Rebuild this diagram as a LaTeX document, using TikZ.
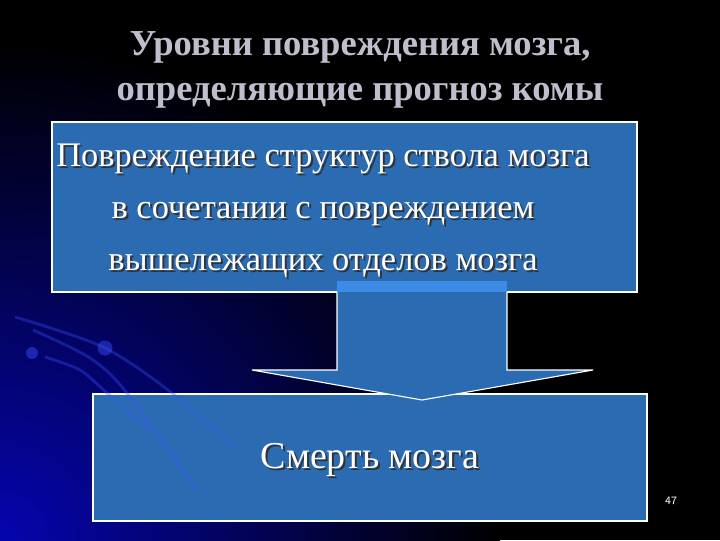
\documentclass[tikz,border=0pt]{standalone}
\usepackage{fontspec}
\setmainfont{Liberation Serif}
\usetikzlibrary{positioning}

\definecolor{boxblue}{RGB}{42,107,178}
\definecolor{arrowtop}{RGB}{60,140,230}
\definecolor{glowblue}{RGB}{5,5,175}
\definecolor{decoblue}{RGB}{60,80,255}
\definecolor{titlegray}{RGB}{190,190,205}

\tikzset{
  panel/.style={draw=white, line width=1pt, fill=boxblue, inner sep=0pt},
  paneltext/.style={text=white, font=\fontsize{24.5}{37}\selectfont, align=center},
  shadowtext/.style={text=black!80, font=\fontsize{24.5}{37}\selectfont, align=center},
  titletext/.style={text=titlegray, font=\fontsize{26}{32}\selectfont\bfseries, align=center},
  deco/.style={decoblue, opacity=0.35, line width=2pt}
}

\begin{document}
\begin{tikzpicture}[x=0.025cm,y=0.025cm]
% background
\fill[black] (0,0) rectangle (720,540);
\begin{scope}
\clip (0,0) rectangle (720,540);
\shade[inner color=glowblue, outer color=black] (0,0) circle (500);
\end{scope}
\useasboundingbox (0,0) rectangle (720,540);

% title
\node[titletext] (title) at (360,470) {Уровни повреждения мозга,\\определяющие прогноз комы};

% upper panel
\node[panel, minimum width=14.625cm, minimum height=4.25cm] (upper) at (344.5,333) {};
\node[shadowtext] at (325,327) {Повреждение структур ствола мозга\\в сочетании с повреждением\\вышележащих отделов мозга};
\node[paneltext] (uppertxt) at (323,329) {Повреждение структур ствола мозга\\в сочетании с повреждением\\вышележащих отделов мозга};

% lower panel
\node[panel, minimum width=13.85cm, minimum height=3.175cm] (lower) at (370,82.5) {};
\node[shadowtext, font=\fontsize{27}{30}\selectfont] at (372,78) {Смерть мозга};
\node[paneltext, font=\fontsize{27}{30}\selectfont] (lowertxt) at (370,80) {Смерть мозга};

% decoration
\draw[deco] plot[smooth] coordinates {(15,223) (103,193) (172,147) (235,92)};
\draw[deco] plot[smooth] coordinates {(33,210) (90,182) (127,147) (197,50)};
\draw[deco] plot[smooth] coordinates {(45,183) (80,170) (107,147) (150,110)};
\fill[decoblue, opacity=0.45] (32,187) circle (6);
\fill[decoblue, opacity=0.45] (105,192) circle (7.5);

% arrow
\fill[boxblue] (337,259) -- (507,259) -- (507,170) -- (593,170) -- (422,140)
  -- (252,170) -- (337,170) -- cycle;
\fill[arrowtop] (337,259) rectangle (507,248);
\draw[white, line width=0.8pt] (337,248) -- (337,170) -- (252,170) -- (422,140)
  -- (593,170) -- (507,170) -- (507,248);

% page number
\node[text=white, font=\sffamily\fontsize{8}{8}\selectfont] (page) at (671,39) {47};
\end{tikzpicture}
\end{document}
